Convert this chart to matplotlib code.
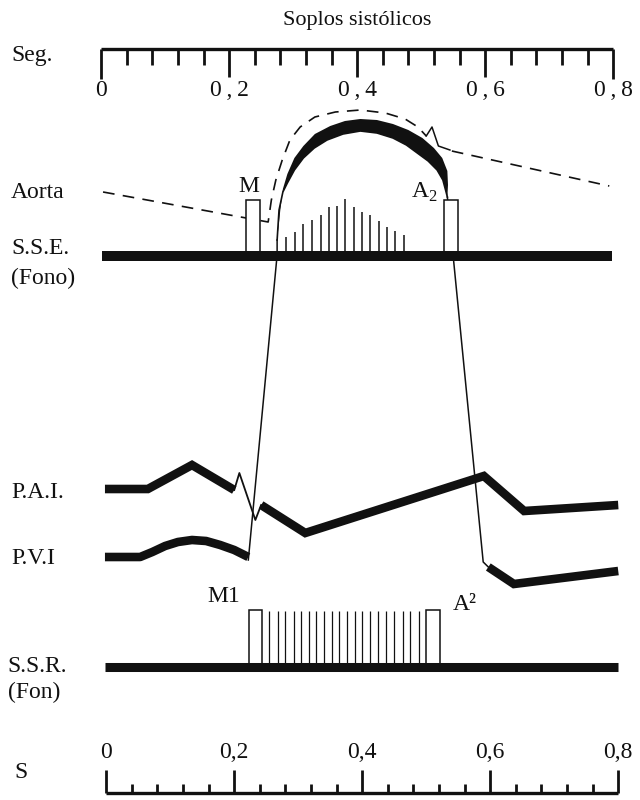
import numpy as np
import matplotlib.pyplot as plt
from matplotlib.patches import Rectangle

plt.rcParams['font.family'] = ['Liberation Serif', 'DejaVu Serif']
plt.rcParams['mathtext.fontset'] = 'custom'
plt.rcParams['mathtext.rm'] = 'Liberation Serif'

INK = '#111111'

# time scale (s)
scale_ticks = np.linspace(0, 0.8, 21)
major_ticks = [0, 0.2, 0.4, 0.6, 0.8]
top_labels = ['0', '0\u2009,\u20092', '0\u2009,\u20094', '0\u2009,\u20096', '0\u2009,\u20098']
bottom_labels = ['0', '0,2', '0,4', '0,6', '0,8']

# aortic pressure (dashed), levels are drawing units, top = 0
aorta_t = [0.003, 0.261, 0.266, 0.273, 0.283, 0.295, 0.311, 0.334, 0.366,
           0.405, 0.444, 0.475, 0.495, 0.508]
aorta_y = [192, 222, 200, 180, 160, 140, 127, 117, 112,
           110, 113, 119, 127, 136]
notch_t = [0.508, 0.517, 0.527, 0.545]
notch_y = [136, 127, 146, 150]
aorta2_t = [0.548, 0.794]
aorta2_y = [151, 186]

# ejection arch (ventricular pressure), outer and inner edge
arch_out_t = [0.275, 0.280, 0.284, 0.291, 0.302, 0.316, 0.334, 0.358, 0.381, 0.405,
              0.431, 0.456, 0.480, 0.502, 0.520, 0.533, 0.541, 0.542, 0.541]
arch_out_y = [240, 210, 189, 174, 158, 146, 134, 126, 121, 119,
              120, 124, 130, 138, 148, 158, 171, 185, 197]
arch_in_t = [0.275, 0.278, 0.284, 0.291, 0.302, 0.316, 0.333, 0.353, 0.378, 0.405,
             0.431, 0.456, 0.477, 0.494, 0.511, 0.525, 0.534, 0.539, 0.541]
arch_in_y = [240, 210, 192, 183, 170, 158, 148, 140, 134, 131,
             133, 138, 145, 153, 161, 170, 180, 192, 197]

# ventricular pressure, steep limbs
lv_up_t = [0.230, 0.275, 0.275]
lv_up_y = [560, 255, 240]
lv_down_t = [0.541, 0.597, 0.605]
lv_down_y = [197, 562, 567]

# left atrial pressure
pai_t = [0.006, 0.073, 0.142, 0.208]
pai_y = [489, 489, 465, 490]
pai_spike_t = [0.208, 0.216, 0.241, 0.250]
pai_spike_y = [490, 473, 520, 505]
pai2_t = [0.250, 0.319, 0.598, 0.661, 0.808]
pai2_y = [505, 533, 476, 511, 505]

# left ventricular pressure (diastole)
pvi_t = [0.006, 0.061, 0.080, 0.100, 0.120, 0.142, 0.164, 0.186, 0.208, 0.230]
pvi_y = [557, 557, 552, 546, 542, 540, 541, 545, 550, 557]
pvi2_t = [0.605, 0.645, 0.808]
pvi2_y = [567, 584, 571]

# phonocardiogram, ejection murmur (S.S.E.)
sse_base = 256
sse_bar_t = [0.289, 0.303, 0.316, 0.330, 0.344, 0.356, 0.369, 0.381,
             0.395, 0.408, 0.420, 0.434, 0.447, 0.459, 0.473]
sse_bar_top = [237, 232, 224, 220, 215, 207, 206, 199,
               207, 212, 215, 221, 227, 231, 235]
sse_boxes = [(0.227, 0.248, 200), (0.536, 0.558, 200)]

# phonocardiogram, regurgitant murmur (S.S.R.)
ssr_base = 667
ssr_bar_t = [0.263, 0.277, 0.288, 0.302, 0.313, 0.325, 0.336, 0.348, 0.361, 0.372,
             0.384, 0.397, 0.408, 0.420, 0.433, 0.445, 0.458, 0.472, 0.483, 0.497]
ssr_bar_top = 611
ssr_boxes = [(0.231, 0.252, 610), (0.508, 0.530, 610)]

fig = plt.figure(figsize=(6.4, 8), dpi=100)
ax = fig.add_axes([0, 0, 1, 1])
ax.set_xlim(-0.158, 0.842)
ax.set_ylim(800, 0)
ax.axis('off')

fs = 17

# top scale
ax.hlines(49, 0, 0.8, color=INK, lw=2.4)
for t in scale_ticks:
    end = 65
    if min(abs(t - m) for m in major_ticks) < 1e-6:
        end = 79 if t in (0, 0.8) else 77
    ax.vlines(t, 49, end, color=INK, lw=2.0)
for t, lab in zip(major_ticks, top_labels):
    ax.text(t, 91, lab, ha='center', va='center', fontsize=fs, color=INK)
ax.text(0.4, 20, 'Soplos sistólicos', ha='center', va='center', fontsize=16, color=INK)

# bottom scale (shifted a little to the right)
off = 0.008
ax.hlines(793, off, 0.8 + off, color=INK, lw=2.4)
for t in scale_ticks:
    top = 784
    if min(abs(t - m) for m in major_ticks) < 1e-6:
        top = 770
    ax.vlines(t + off, top, 793, color=INK, lw=2.0)
for t, lab in zip(major_ticks, bottom_labels):
    ax.text(t + off, 753, lab, ha='center', va='center', fontsize=fs, color=INK)

# aortic pressure
ax.plot(aorta_t, aorta_y, color=INK, lw=1.2, ls=(0, (7, 5)))
ax.plot(notch_t, notch_y, color=INK, lw=1.1)
ax.plot(aorta2_t, aorta2_y, color=INK, lw=1.2, ls=(0, (7, 5)))

# ejection arch
ax.fill(arch_out_t + arch_in_t[::-1], arch_out_y + arch_in_y[::-1], color=INK, lw=0)
ax.plot(arch_in_t, arch_in_y, color=INK, lw=1.2)
ax.plot(lv_up_t, lv_up_y, color=INK, lw=1.1)
ax.plot(lv_down_t, lv_down_y, color=INK, lw=1.1)

# atrial and ventricular pressure
thick = 6.2
ax.plot(pai_t, pai_y, color=INK, lw=thick, solid_joinstyle='miter', solid_capstyle='butt')
ax.plot(pai_spike_t, pai_spike_y, color=INK, lw=1.3)
ax.plot(pai2_t, pai2_y, color=INK, lw=thick, solid_joinstyle='miter', solid_capstyle='butt')
ax.plot(pvi_t, pvi_y, color=INK, lw=thick, solid_capstyle='butt')
ax.plot(pvi2_t, pvi2_y, color=INK, lw=thick, solid_joinstyle='miter', solid_capstyle='butt')

# S.S.E. phono
ax.vlines(sse_bar_t, sse_bar_top, sse_base, color=INK, lw=1.1)
for t0, t1, top in sse_boxes:
    ax.add_patch(Rectangle((t0, sse_base), t1 - t0, top - sse_base,
                           facecolor='white', edgecolor=INK, lw=1.1, zorder=3))
ax.hlines(sse_base, 0.002, 0.798, color=INK, lw=7.2, zorder=4)

# S.S.R. phono
ax.vlines(ssr_bar_t, ssr_bar_top, ssr_base, color=INK, lw=0.9)
for t0, t1, top in ssr_boxes:
    ax.add_patch(Rectangle((t0, ssr_base), t1 - t0, top - ssr_base,
                           facecolor='white', edgecolor=INK, lw=1.1, zorder=3))
ax.hlines(ssr_base, 0.006, 0.808, color=INK, lw=6.5, zorder=4)

# labels
left = -0.141
ax.text(left, 55, 'Seg.', ha='left', va='center', fontsize=fs, color=INK)
ax.text(left, 193, 'Aorta', ha='left', va='center', fontsize=fs, color=INK)
ax.text(left, 248, 'S.S.E.', ha='left', va='center', fontsize=fs, color=INK)
ax.text(left, 278, '(Fono)', ha='left', va='center', fontsize=fs, color=INK)
ax.text(left, 492, 'P.A.I.', ha='left', va='center', fontsize=fs, color=INK)
ax.text(left, 558, 'P.V.I', ha='left', va='center', fontsize=fs, color=INK)
ax.text(-0.146, 667, 'S.S.R.', ha='left', va='center', fontsize=fs, color=INK)
ax.text(-0.146, 692, '(Fon)', ha='left', va='center', fontsize=fs, color=INK)
ax.text(-0.136, 773, 'S', ha='left', va='center', fontsize=fs, color=INK)
ax.text(0.230, 186, 'M', ha='center', va='center', fontsize=fs, color=INK)
ax.text(0.526, 192, r'A$_2$', ha='right', va='center', fontsize=fs, color=INK)
ax.text(0.191, 597, 'M1', ha='center', va='center', fontsize=fs, color=INK)
ax.text(0.550, 604, 'A²', ha='left', va='center', fontsize=fs, color=INK)

fig.savefig('out.png', dpi=100, facecolor='white')
